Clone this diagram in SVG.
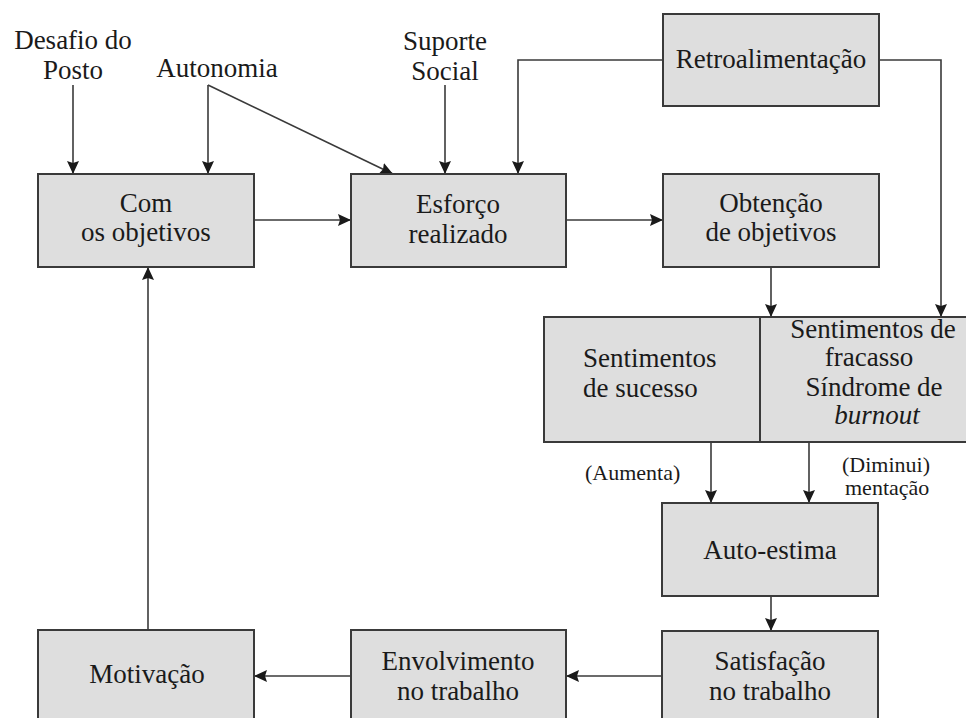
<svg xmlns="http://www.w3.org/2000/svg" width="966" height="718" viewBox="0 0 966 718">
  <style>
    .box { fill: #dedede; stroke: #3a3a3a; stroke-width: 2; }
    .t { font-family: 'Liberation Serif', Tinos, 'Times New Roman', serif; font-size: 27px; fill: #1a1a1a; text-anchor: middle; }
    .s { font-family: 'Liberation Serif', Tinos, 'Times New Roman', serif; font-size: 22px; fill: #1a1a1a; }
    .c { fill: none; stroke: #3a3a3a; stroke-width: 1.6; }
    .a { marker-end: url(#head); }
  </style>
  <defs>
    <marker id="head" markerUnits="userSpaceOnUse" markerWidth="14" markerHeight="12" viewBox="0 0 14 12" refX="13" refY="6" orient="auto">
      <path d="M0,0 L13,6 L0,12 L2,6 Z" fill="#1a1a1a"/>
    </marker>
  </defs>

  <rect width="966" height="718" fill="#ffffff"/>

  <!-- free-standing labels -->
  <g id="desafio">
    <text class="t" x="73" y="49">Desafio do</text>
    <text class="t" x="73" y="79">Posto</text>
  </g>
  <g id="autonomia">
    <text class="t" x="217" y="77">Autonomia</text>
  </g>
  <g id="suporte">
    <text class="t" x="445" y="50">Suporte</text>
    <text class="t" x="445" y="80">Social</text>
  </g>

  <!-- connectors -->
  <g id="connectors">
    <line class="c a" x1="73" y1="85" x2="73" y2="174"/>
    <line class="c a" x1="208" y1="85" x2="208" y2="174"/>
    <line class="c a" x1="208" y1="85" x2="393" y2="174"/>
    <line class="c a" x1="445" y1="85" x2="445" y2="174"/>
    <polyline class="c a" points="663,60 518,60 518,174"/>
    <polyline class="c a" points="879,60 941,60 941,317"/>
    <line class="c a" x1="254" y1="220" x2="351" y2="220"/>
    <line class="c a" x1="566" y1="220" x2="663" y2="220"/>
    <line class="c a" x1="771" y1="267" x2="771" y2="317"/>
    <line class="c a" x1="711" y1="442" x2="711" y2="503"/>
    <line class="c a" x1="809" y1="442" x2="809" y2="503"/>
    <line class="c a" x1="771" y1="596" x2="771" y2="631"/>
    <line class="c a" x1="662" y1="676" x2="566" y2="676"/>
    <line class="c a" x1="351" y1="676" x2="254" y2="676"/>
    <line class="c a" x1="148" y1="630" x2="148" y2="267"/>
  </g>

  <g id="retro">
    <rect class="box" x="663" y="14" width="216" height="92"/>
    <text class="t" x="771" y="68">Retroalimentação</text>
  </g>
  <g id="com">
    <rect class="box" x="38" y="174" width="216" height="93"/>
    <text class="t" x="146" y="212">Com</text>
    <text class="t" x="146" y="241">os objetivos</text>
  </g>
  <g id="esforco">
    <rect class="box" x="351" y="174" width="215" height="93"/>
    <text class="t" x="458" y="213">Esforço</text>
    <text class="t" x="458" y="243">realizado</text>
  </g>
  <g id="obtencao">
    <rect class="box" x="663" y="174" width="216" height="93"/>
    <text class="t" x="771" y="212">Obtenção</text>
    <text class="t" x="771" y="241">de objetivos</text>
  </g>
  <g id="sucesso">
    <rect class="box" x="544" y="317" width="216" height="125"/>
    <text class="t" x="583" y="367" style="text-anchor:start">Sentimentos</text>
    <text class="t" x="583" y="397" style="text-anchor:start">de sucesso</text>
  </g>
  <g id="fracasso">
    <rect class="box" x="760" y="317" width="212" height="125"/>
    <text class="t" x="873" y="338" font-size="25">Sentimentos de</text>
    <text class="t" x="869" y="366" font-size="25">fracasso</text>
    <text class="t" x="874" y="396" font-size="25">Síndrome de</text>
    <text class="t" x="877" y="424" font-size="25" font-style="italic">burnout</text>
  </g>
  <g id="efeitos">
    <text class="s" x="585" y="480">(Aumenta)</text>
    <text class="s" x="842" y="472">(Diminui)</text>
    <text class="s" x="845" y="495">mentação</text>
  </g>
  <g id="autoestima">
    <rect class="box" x="662" y="503" width="216" height="93"/>
    <text class="t" x="770" y="559">Auto-estima</text>
  </g>
  <g id="satisfacao">
    <rect class="box" x="662" y="631" width="216" height="95"/>
    <text class="t" x="770" y="670">Satisfação</text>
    <text class="t" x="770" y="700">no trabalho</text>
  </g>
  <g id="envolvimento">
    <rect class="box" x="351" y="630" width="215" height="96"/>
    <text class="t" x="458" y="670">Envolvimento</text>
    <text class="t" x="458" y="700">no trabalho</text>
  </g>
  <g id="motivacao">
    <rect class="box" x="38" y="630" width="216" height="96"/>
    <text class="t" x="147" y="683">Motivação</text>
  </g>
</svg>
